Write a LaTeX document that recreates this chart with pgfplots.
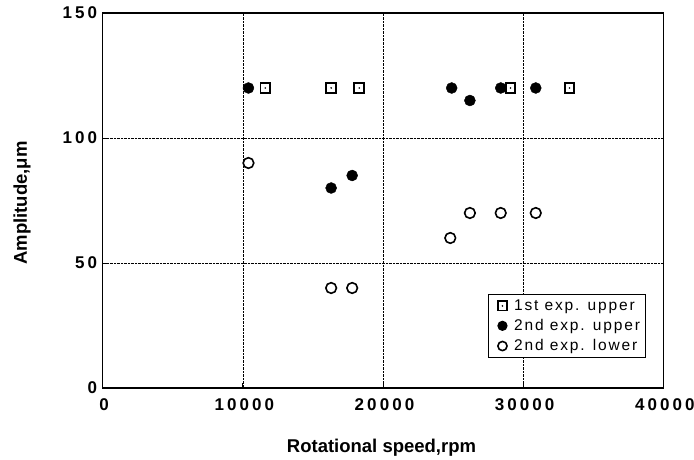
\documentclass[border=0pt]{standalone}
\usepackage{fontspec}
\setmainfont{Liberation Sans}
\newfontfamily\tickfont{Liberation Sans Bold}[LetterSpace=18]
\newfontfamily\legfont{Liberation Sans}[LetterSpace=12]
\newfontfamily\labfont{Liberation Sans Bold}
\usepackage{pgfplots}
\pgfplotsset{compat=1.18}
\pgfdeclareplotmark{sqdot}{%
  \pgfpathrectangle{\pgfqpoint{-\pgfplotmarksize}{-\pgfplotmarksize}}{\pgfqpoint{2\pgfplotmarksize}{2\pgfplotmarksize}}%
  \pgfusepathqstroke
  \pgfpathcircle{\pgfpointorigin}{0.9pt}%
  \pgfusepathqfill}
\begin{document}
\begin{tikzpicture}
\useasboundingbox (-102.7bp,-72bp) rectangle (591.3bp,388bp);
\begin{axis}[
  at={(0,0)}, anchor=south west,
  width=560.6bp, height=375bp, scale only axis,
  xmin=0, xmax=40000, ymin=0, ymax=150,
  xtick={0,10000,20000,30000,40000},
  ytick={0,50,100,150},
  scaled x ticks=false,
  /pgf/number format/1000 sep={},
  /pgf/number format/assume math mode=true,
  axis line style={line width=1.3bp},
  tick style={black, line width=0.8bp},
  major tick length=5bp,
  tick align=inside,
  tick pos=left,
  grid=major,
  major grid style={black, densely dotted, line width=0.7bp},
  xticklabel={\pgfmathprintnumber{\tick}\kern-3bp},
  yticklabel={\pgfmathprintnumber{\tick}\kern-3bp},
  xticklabel style={font=\tickfont\fontsize{17bp}{17bp}\selectfont, anchor=north, inner sep=0pt, yshift=-10bp},
  yticklabel style={font=\tickfont\fontsize{17bp}{17bp}\selectfont, anchor=east, inner sep=0pt, xshift=-8.5bp},
  xlabel={Rotational speed,rpm},
  ylabel={Amplitude,μm},
  xlabel style={font=\labfont\fontsize{18.5bp}{20bp}\selectfont, at={(axis description cs:0.5,0)}, anchor=center, yshift=-59.5bp, xshift=-1.5bp},
  ylabel style={font=\labfont\fontsize{18.5bp}{20bp}\selectfont, at={(axis description cs:0,0.5)}, anchor=center, yshift=80.7bp, xshift=-2.5bp},
  legend style={at={(0.970,0.079)}, anchor=south east, draw=black, line width=1bp,
    font=\legfont\fontsize{15.5bp}{16bp}\selectfont, row sep=3.5bp, column sep=5bp,
    inner xsep=4bp, inner ysep=3.5bp,
    legend cell align=left},
  legend image code/.code={\path (-9bp,0bp); \draw[#1] plot coordinates {(0bp,0bp)};},
  legend image post style={mark size=4.6bp},
]
\addplot[only marks, mark=sqdot, mark size=4.8bp, mark options={line width=1.8bp, black}]
  coordinates {(11600,120) (16300,120) (18300,120) (29100,120) (33300,120)};
\addlegendentry{1st exp. upper}
\addplot[only marks, mark=*, mark size=5.5bp, mark options={black, fill=black}]
  coordinates {(10400,120) (16300,80) (17800,85) (24900,120) (26200,115) (28400,120) (30900,120)};
\addlegendentry{2nd exp. upper}
\addplot[only marks, mark=o, mark size=5.3bp, mark options={black, line width=1.6bp}]
  coordinates {(10400,90) (16300,40) (17800,40) (24800,60) (26200,70) (28400,70) (30900,70)};
\addlegendentry{2nd exp. lower}
\end{axis}
\end{tikzpicture}
\end{document}
